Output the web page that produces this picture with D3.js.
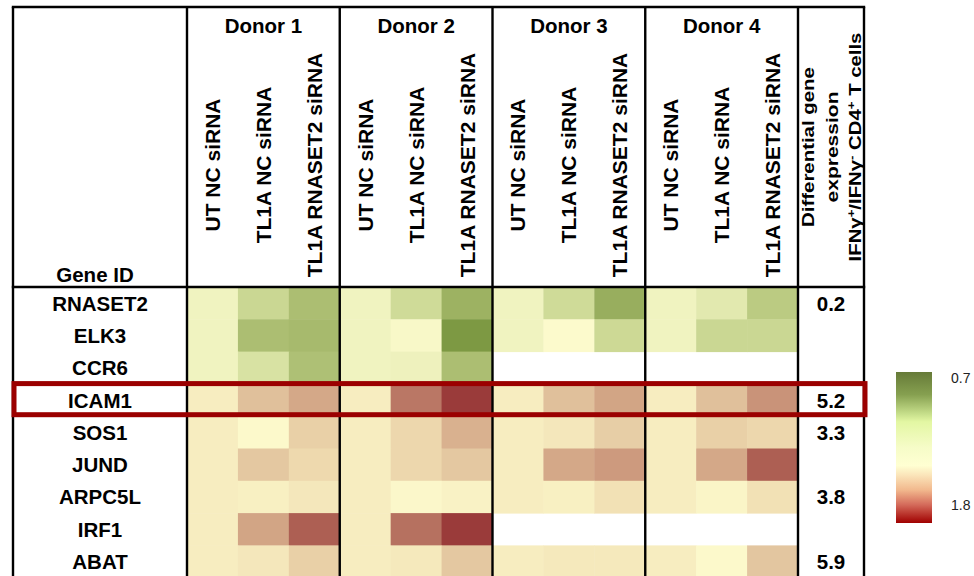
<!DOCTYPE html>
<html>
<head>
<meta charset="utf-8">
<script src="https://cdn.jsdelivr.net/npm/d3@7"></script>
<style>
  html, body { margin: 0; padding: 0; background: #fff; }
  svg { display: block; font-family: "Liberation Sans", Arial, sans-serif; }
</style>
</head>
<body>
<svg id="chart" width="974" height="576"></svg>
<script>
// ---------- data ----------
const donors = ["Donor 1", "Donor 2", "Donor 3", "Donor 4"];
const conditions = ["UT NC siRNA", "TL1A NC siRNA", "TL1A RNASET2 siRNA"];
const genes = ["RNASET2", "ELK3", "CCR6", "ICAM1", "SOS1", "JUND", "ARPC5L", "IRF1", "ABAT"];

// relative expression per gene: [donor][condition]; null = not measured
const valuesRNASET2 = [[0.97, 0.89, 0.83], [0.97, 0.90, 0.80], [0.97, 0.90, 0.79], [0.97, 0.94, 0.86]];
const valuesELK3    = [[0.97, 0.83, 0.82], [0.97, 0.99, 0.73], [0.97, 1.00, 0.895], [0.97, 0.89, 0.89]];
const valuesCCR6    = [[0.97, 0.92, 0.835], [0.97, 0.965, 0.83], [null, null, null], [null, null, null]];
const valuesICAM1   = [[1.05, 1.27, 1.35], [1.05, 1.49, 1.69], [1.05, 1.27, 1.36], [1.05, 1.27, 1.41]];
const valuesSOS1    = [[1.05, 1.005, 1.20], [1.05, 1.16, 1.32], [1.05, 1.08, 1.21], [1.05, 1.20, 1.16]];
const valuesJUND    = [[1.05, 1.24, 1.15], [1.05, 1.16, 1.24], [1.05, 1.35, 1.39], [1.05, 1.35, 1.57]];
const valuesARPC5L  = [[1.05, 1.04, 1.08], [1.05, 1.01, 1.03], [1.05, 1.04, 1.11], [1.05, 1.02, 1.11]];
const valuesIRF1    = [[1.05, 1.36, 1.57], [1.05, 1.51, 1.69], [null, null, null], [null, null, null]];
const valuesABAT    = [[1.05, 1.08, 1.20], [1.05, 1.07, 1.24], [1.05, 1.07, 1.07], [1.05, 1.005, 1.25]];
const geneValues = [valuesRNASET2, valuesELK3, valuesCCR6, valuesICAM1, valuesSOS1, valuesJUND, valuesARPC5L, valuesIRF1, valuesABAT];

// differential gene expression IFNγ+/IFNγ- (blank where not given)
const diffExpr = ["0.2", "", "", "5.2", "3.3", "", "3.8", "", "5.9"];
const highlightGene = "ICAM1";

// colour scale stops (value -> colour) for cells
const cellStops  = [0.70, 0.80, 0.90, 0.97, 1.00, 1.05, 1.15, 1.25, 1.35, 1.50, 1.70];
const cellColors = ["#6f8e35", "#9db262", "#cfdb98", "#f0f3c0", "#fcfacc", "#f7edc0", "#eed9ae", "#e3c6a0", "#d4a888", "#b87462", "#983838"];
// legend gradient
const legendTicks = ["0.7", "1.8"];
const legendOffsets = [0, 0.15, 0.28, 0.33, 0.5, 0.62, 0.68, 0.78, 0.88, 1.0];
const legendColors  = ["#667a38", "#86a050", "#c8e08c", "#e3f7a3", "#f6fcc8", "#ffffd2", "#fbe6bb", "#f2b98e", "#d46a5a", "#a00000"];

// ---------- layout ----------
const L = { left: 13, geneRight: 187, heatRight: 798, right: 864, top: 7, headBottom: 287, rowH: 32.3 };
const svg = d3.select("#chart");
const font = '"Liberation Sans", Arial, sans-serif';

const cols = [];
donors.forEach((d, di) => conditions.forEach((c, ci) => cols.push({ key: di + "|" + ci, donor: d, di, ci, cond: c })));

const x = d3.scaleBand().domain(cols.map(c => c.key)).range([L.geneRight, L.heatRight]);
const y = d3.scaleBand().domain(genes).range([L.headBottom, L.headBottom + L.rowH * genes.length]);
const color = d3.scaleLinear().domain(cellStops).range(cellColors).interpolate(d3.interpolateRgb).clamp(true);

// ---------- cells ----------
const cells = [];
genes.forEach((g, gi) => geneValues[gi].forEach((dv, di) => dv.forEach((v, ci) => {
  if (v !== null) cells.push({ gene: g, key: di + "|" + ci, v });
})));
svg.append("g").selectAll("rect").data(cells).join("rect")
  .attr("x", d => x(d.key)).attr("y", d => y(d.gene))
  .attr("width", x.bandwidth() + 0.5).attr("height", y.bandwidth() + 0.5)
  .attr("fill", d => color(d.v));

// ---------- grid lines ----------
const grid = svg.append("g").attr("stroke", "#000").attr("stroke-width", 2.4);
const vLines = [L.left, L.geneRight, x(cols[3].key), x(cols[6].key), x(cols[9].key), L.heatRight, L.right];
grid.selectAll("line.v").data(vLines).join("line")
  .attr("x1", d => d).attr("x2", d => d).attr("y1", L.top).attr("y2", 576);
grid.selectAll("line.h").data([L.top, L.headBottom]).join("line")
  .attr("x1", L.left - 1.2).attr("x2", L.right + 1.2).attr("y1", d => d).attr("y2", d => d);

// ---------- header texts ----------
svg.append("g").selectAll("text").data(donors).join("text")
  .attr("x", (d, i) => x(cols[i * 3].key) + x.bandwidth() * 1.5)
  .attr("y", 33).attr("text-anchor", "middle")
  .attr("font-size", 20.5).attr("font-weight", "bold").text(d => d);

svg.append("g").selectAll("text").data(cols).join("text")
  .attr("transform", d => `translate(${x(d.key) + x.bandwidth() / 2},165) rotate(-90)`)
  .attr("text-anchor", "middle").attr("dominant-baseline", "central")
  .attr("font-size", 21).attr("font-weight", "bold").text(d => d.cond);

svg.append("text").attr("x", 95).attr("y", 282).attr("text-anchor", "middle")
  .attr("font-size", 20.5).attr("font-weight", "bold").text("Gene ID");

// last column header
const hdr = svg.append("g").attr("font-size", 17).attr("font-weight", "bold").attr("text-anchor", "middle");
const hdrLines = [
  { x: 814, len: 160, parts: [["Differential gene", false]] },
  { x: 838, len: 111, parts: [["expression", false]] },
  { x: 861, len: 229, parts: [["IFN\u03B3", false], ["+", true], ["/IFN\u03B3", false], ["-", true], [" CD4", false], ["+", true], [" T cells", false]] }
];
hdrLines.forEach(l => {
  const t = hdr.append("text").attr("transform", `translate(${l.x},147) rotate(-90)`);
  l.parts.forEach(p => {
    const ts = t.append("tspan").text(p[0]);
    if (p[1]) ts.attr("font-size", 11).attr("baseline-shift", "super");
  });
  const w = t.node().getComputedTextLength();
  t.attr("transform", `translate(${l.x},147) rotate(-90) scale(${l.len / w},1)`);
});

// ---------- gene labels & values ----------
svg.append("g").selectAll("text").data(genes).join("text")
  .attr("x", 100).attr("y", d => y(d) + y.bandwidth() / 2)
  .attr("dominant-baseline", "central").attr("text-anchor", "middle")
  .attr("font-size", 20.5).attr("font-weight", "bold").text(d => d);

svg.append("g").selectAll("text").data(genes).join("text")
  .attr("x", 831).attr("y", d => y(d) + y.bandwidth() / 2)
  .attr("dominant-baseline", "central").attr("text-anchor", "middle")
  .attr("font-size", 20.5).attr("font-weight", "bold").text((d, i) => diffExpr[i]);

// ---------- highlight box ----------
svg.append("rect")
  .attr("x", L.left + 1).attr("y", y(highlightGene) - 0.3)
  .attr("width", L.right - L.left).attr("height", y.bandwidth() - 1.2)
  .attr("fill", "none").attr("stroke", "#9b0000").attr("stroke-width", 5);

// ---------- legend ----------
const defs = svg.append("defs");
const grad = defs.append("linearGradient").attr("id", "lg").attr("x1", 0).attr("x2", 0).attr("y1", 0).attr("y2", 1);
grad.selectAll("stop").data(legendOffsets).join("stop")
  .attr("offset", d => d).attr("stop-color", (d, i) => legendColors[i]);
const ly = d3.scalePoint().domain(legendTicks).range([378, 505]);
svg.append("rect").attr("x", 896).attr("y", 372).attr("width", 36).attr("height", 151).attr("fill", "url(#lg)");
svg.append("g").selectAll("text").data(legendTicks).join("text")
  .attr("x", 951).attr("y", d => ly(d)).attr("dominant-baseline", "central")
  .attr("font-size", 14).attr("fill", "#222").text(d => d);
</script>
</body>
</html>
